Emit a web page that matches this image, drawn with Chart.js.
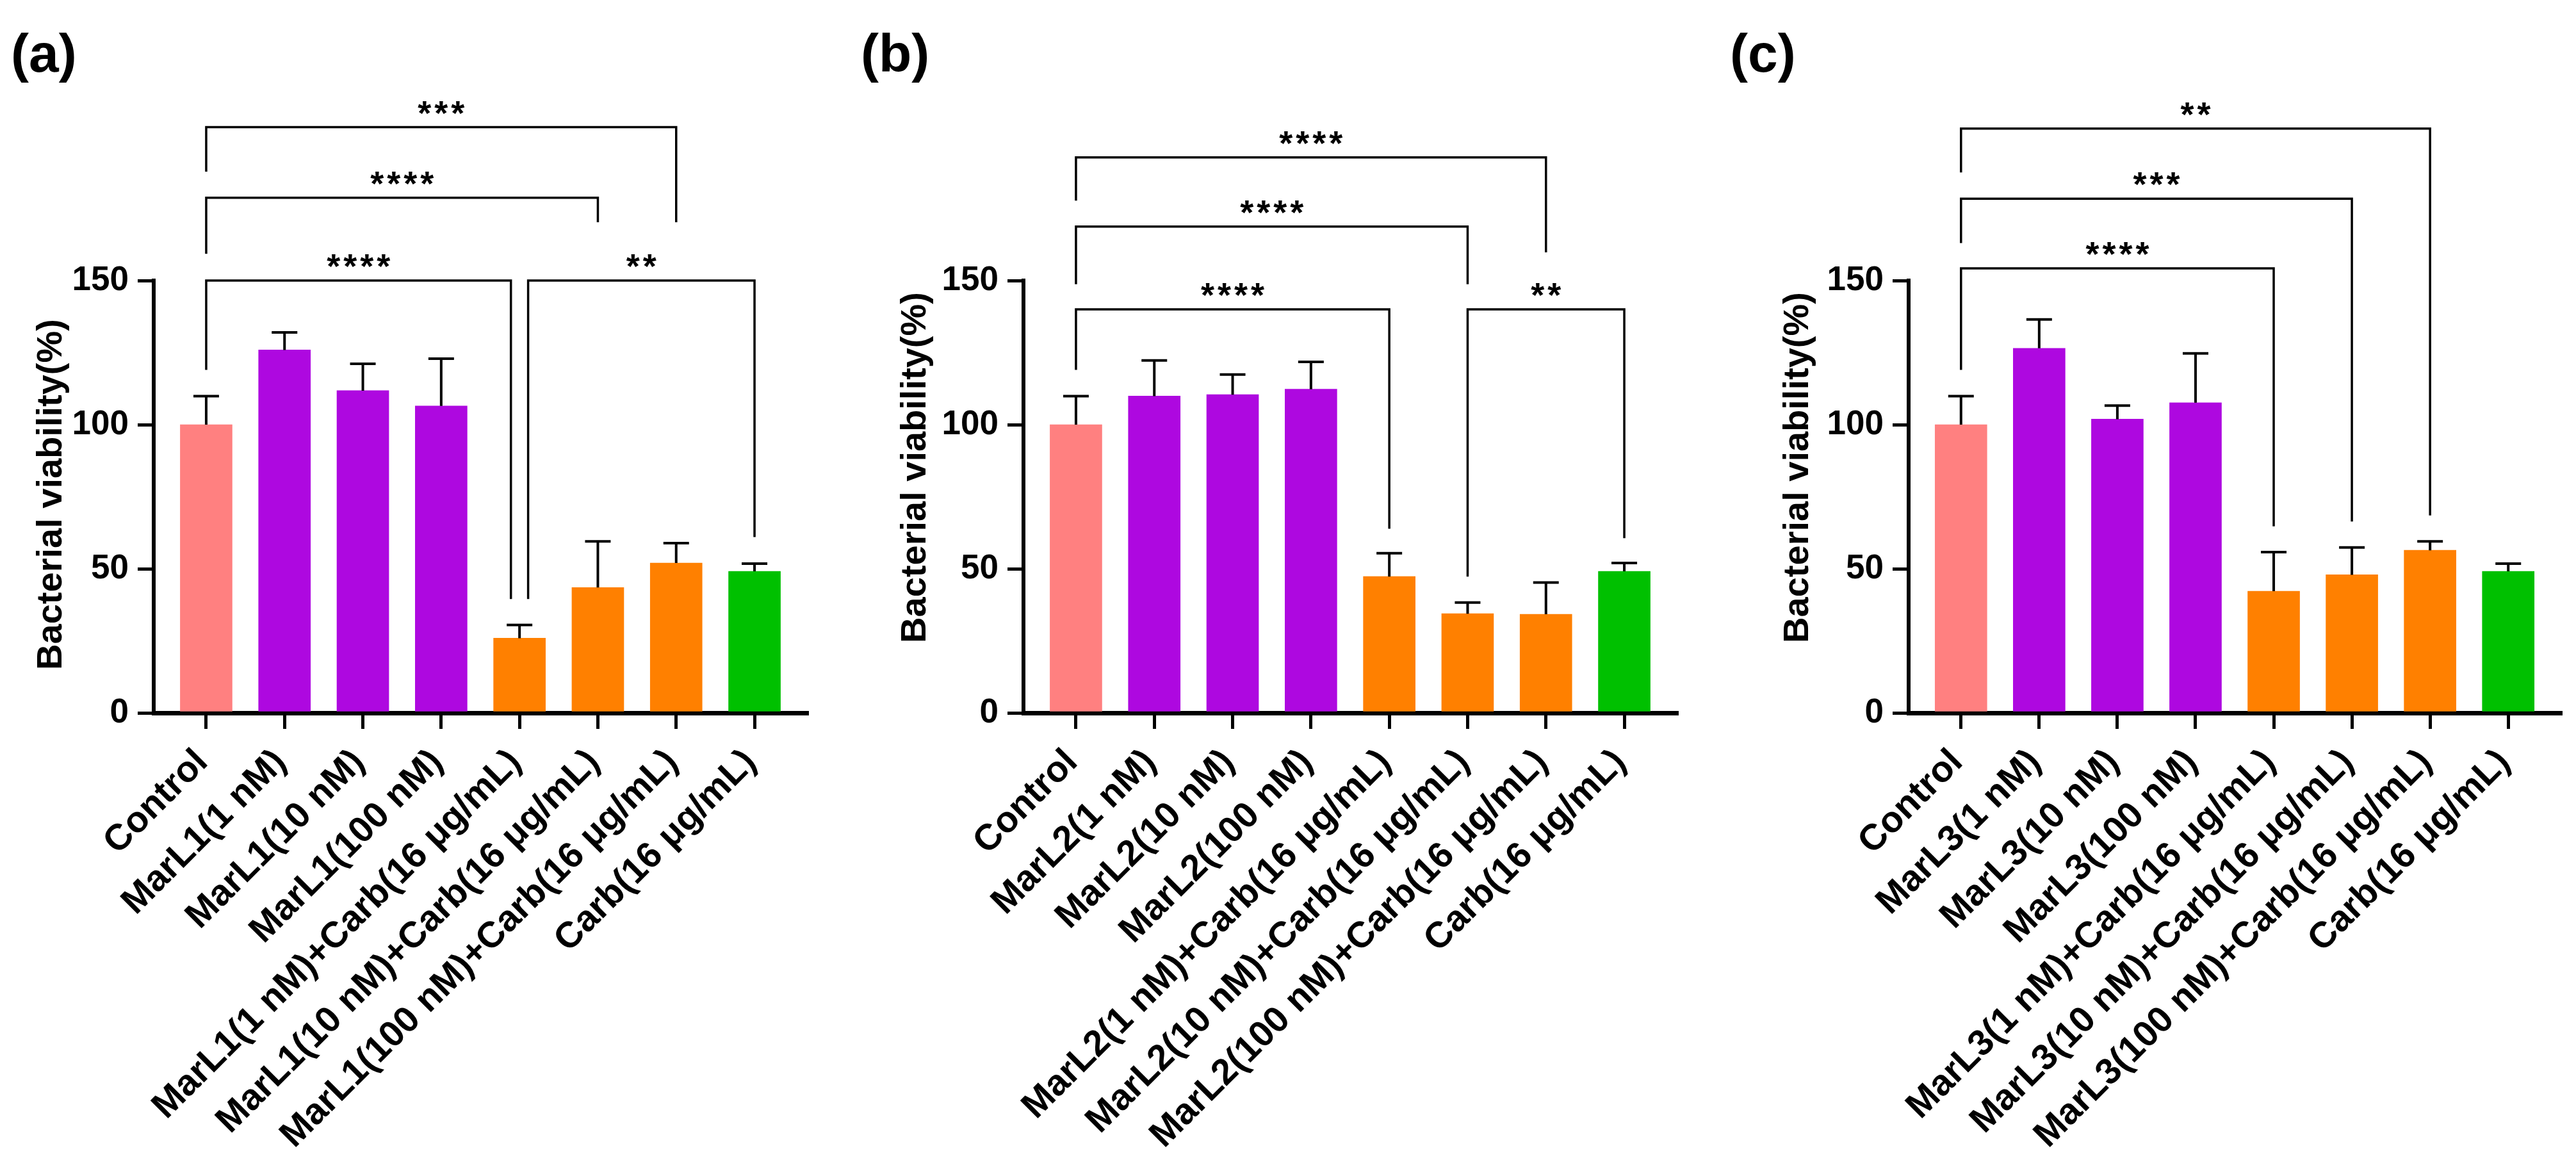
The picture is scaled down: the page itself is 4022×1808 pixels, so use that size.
<!DOCTYPE html>
<html>
<head>
<meta charset="utf-8">
<script src="https://cdn.jsdelivr.net/npm/chart.js@4.4.1/dist/chart.umd.min.js"></script>
<style>
  html, body { margin: 0; padding: 0; background: #ffffff; }
  body { width: 4022px; height: 1808px; position: relative; overflow: hidden; }
  .panel { position: absolute; top: 0; height: 1808px; }
</style>
</head>
<body>
<div class="panel" style="left:0px;width:1340px"><canvas id="chartA" width="1340" height="1808"></canvas></div>
<div class="panel" style="left:1340px;width:1340px"><canvas id="chartB" width="1340" height="1808"></canvas></div>
<div class="panel" style="left:2680px;width:1342px"><canvas id="chartC" width="1342" height="1808"></canvas></div>
<script>
// ---------- data ----------
const categoriesA = ["Control", "MarL1(1 nM)", "MarL1(10 nM)", "MarL1(100 nM)",
  "MarL1(1 nM)+Carb(16 μg/mL)", "MarL1(10 nM)+Carb(16 μg/mL)", "MarL1(100 nM)+Carb(16 μg/mL)", "Carb(16 μg/mL)"];
const categoriesB = ["Control", "MarL2(1 nM)", "MarL2(10 nM)", "MarL2(100 nM)",
  "MarL2(1 nM)+Carb(16 μg/mL)", "MarL2(10 nM)+Carb(16 μg/mL)", "MarL2(100 nM)+Carb(16 μg/mL)", "Carb(16 μg/mL)"];
const categoriesC = ["Control", "MarL3(1 nM)", "MarL3(10 nM)", "MarL3(100 nM)",
  "MarL3(1 nM)+Carb(16 μg/mL)", "MarL3(10 nM)+Carb(16 μg/mL)", "MarL3(100 nM)+Carb(16 μg/mL)", "Carb(16 μg/mL)"];

// mean bacterial viability (%) and SD (drawn as mean + SD error bars)
const meanA = [100, 125.9, 111.8, 106.5, 25.9, 43.5, 52.0, 49.1];
const sdA   = [9.9, 6.1, 9.3, 16.4, 4.6, 16.0, 6.9, 2.7];
const meanB = [100, 109.9, 110.4, 112.3, 47.3, 34.4, 34.2, 49.1];
const sdB   = [9.9, 12.4, 7.0, 9.5, 8.1, 3.9, 11.0, 2.9];
const meanC = [100, 126.5, 101.9, 107.6, 42.2, 47.9, 56.4, 49.1];
const sdC   = [9.9, 10.0, 4.7, 17.1, 13.6, 9.5, 3.1, 2.7];

const yTicks = [0, 50, 100, 150];
const panelLetters = ["(a)", "(b)", "(c)"];
const yTitle = "Bacterial viability(%)";

// significance brackets:
// [fromIndex, toIndex, lineValue, leftLegEndValue, rightLegEndValue, stars, fromShift, toShift]
const bracketsA = [
  [0, 6, 203.2, 187.8, 170.2, "***", 0, 0],
  [0, 5, 178.7, 159.3, 170.2, "****", 0, 0],
  [0, 4, 150.0, 119.0, 39.5, "****", 0, -0.11],
  [4, 7, 150.0, 39.5, 61.0, "**", 0.11, 0]
];
const bracketsB = [
  [0, 6, 192.7, 177.7, 159.8, "****", 0, 0],
  [0, 5, 168.7, 148.7, 148.7, "****", 0, 0],
  [0, 4, 140.0, 119.0, 63.9, "****", 0, 0],
  [5, 7, 140.0, 47.3, 60.6, "**", 0, 0]
];
const bracketsC = [
  [0, 6, 202.7, 187.5, 68.5, "**", 0, 0],
  [0, 5, 178.4, 163.0, 66.4, "***", 0, 0],
  [0, 4, 154.2, 119.0, 64.7, "****", 0, 0]
];

const colorControl = "#FF8080";
const colorMarL = "#AE08E0";
const colorCombo = "#FF8000";
const colorCarb = "#00C000";
const barColors = [colorControl, colorMarL, colorMarL, colorMarL, colorCombo, colorCombo, colorCombo, colorCarb];

// ---------- drawing ----------
const FONT = "'Liberation Sans', Arial, Helvetica, sans-serif";
Chart.defaults.font.family = FONT;
Chart.defaults.color = "#000";
const STAR_FS = 54;

function decoPlugin(cfg) {
  return {
    id: 'deco',
    afterDatasetsDraw(chart) {
      const ctx = chart.ctx, xs = chart.scales.x, ys = chart.scales.y;
      ctx.save();
      ctx.strokeStyle = "#000";
      // error bars (mean + SD)
      ctx.lineWidth = 4;
      cfg.mean.forEach((m, i) => {
        const x = xs.getPixelForValue(i);
        const y0 = ys.getPixelForValue(m), y1 = ys.getPixelForValue(m + cfg.sd[i]);
        ctx.beginPath();
        ctx.moveTo(x, y0); ctx.lineTo(x, y1);
        ctx.moveTo(x - 20, y1); ctx.lineTo(x + 20, y1);
        ctx.stroke();
      });
      // significance brackets with stars
      ctx.lineWidth = 3.5;
      ctx.fillStyle = "#000";
      ctx.font = "bold " + STAR_FS + "px " + FONT;
      ctx.textAlign = "center";
      ctx.textBaseline = "alphabetic";
      cfg.brackets.forEach(b => {
        const xL = xs.getPixelForValue(b[0] + b[6]), xR = xs.getPixelForValue(b[1] + b[7]);
        const yLine = ys.getPixelForValue(b[2]), yL = ys.getPixelForValue(b[3]), yR = ys.getPixelForValue(b[4]);
        ctx.beginPath();
        ctx.moveTo(xL, yL); ctx.lineTo(xL, yLine); ctx.lineTo(xR, yLine); ctx.lineTo(xR, yR);
        ctx.stroke();
        const stars = b[5], pitch = 26, cx = (xL + xR) / 2;
        for (let k = 0; k < stars.length; k++) {
          ctx.fillText("*", cx + (k - (stars.length - 1) / 2) * pitch, yLine - 4);
        }
      });
      ctx.restore();
    },
    afterDraw(chart) {
      const ctx = chart.ctx;
      ctx.save();
      ctx.fillStyle = "#000";
      ctx.font = "bold 84px " + FONT;
      ctx.textAlign = "left";
      ctx.textBaseline = "alphabetic";
      ctx.fillText(cfg.letter, cfg.letterX, 112);
      ctx.translate(cfg.titleX, cfg.titleY);
      ctx.rotate(-Math.PI / 2);
      ctx.font = "bold 56px " + FONT;
      ctx.textAlign = "center";
      ctx.textBaseline = "middle";
      ctx.fillText(yTitle, 0, 0);
      ctx.restore();
    }
  };
}

function makeChart(canvasId, cfg) {
  const data = cfg.mean.map((v, i) => ({ x: i, y: v }));
  return new Chart(document.getElementById(canvasId), {
    type: 'bar',
    data: {
      datasets: [{ data: data, backgroundColor: barColors, borderWidth: 0, barThickness: 81 }]
    },
    options: {
      responsive: false,
      animation: false,
      devicePixelRatio: 1,
      layout: { padding: { left: 0, right: cfg.padRight, top: 438, bottom: 0 } },
      plugins: { legend: { display: false }, tooltip: { enabled: false } },
      scales: {
        x: {
          type: 'linear', min: -0.67, max: 7.67, bounds: 'data', offset: false,
          afterBuildTicks(scale) { scale.ticks = cfg.categories.map((c, i) => ({ value: i })); },
          afterFit(scale) { scale.height = 695; },
          ticks: {
            autoSkip: false, minRotation: 45, maxRotation: 45, padding: 19, labelOffset: -6,
            font: { size: 57, weight: 'bold' }, color: '#000',
            callback: (v) => cfg.categories[Math.round(v)]
          },
          grid: { offset: false, drawOnChartArea: false, drawTicks: true, tickLength: 25, lineWidth: 5, color: '#000' },
          border: { display: true, width: 7, color: '#000' }
        },
        y: {
          min: 0, max: 150,
          afterBuildTicks(scale) { scale.ticks = yTicks.map(v => ({ value: v })); },
          afterFit(scale) { scale.width = cfg.yWidth; },
          ticks: { padding: 14, font: { size: 53, weight: 'bold' }, color: '#000' },
          grid: { drawOnChartArea: false, drawTicks: true, tickLength: 25, lineWidth: 5, color: '#000' },
          border: { display: true, width: 6, color: '#000' }
        }
      }
    },
    plugins: [decoPlugin(cfg)]
  });
}

makeChart('chartA', { categories: categoriesA, mean: meanA, sd: sdA, brackets: bracketsA,
  yWidth: 240, padRight: 80, letter: panelLetters[0], letterX: 17, titleX: 81, titleY: 772 });
makeChart('chartB', { categories: categoriesB, mean: meanB, sd: sdB, brackets: bracketsB,
  yWidth: 258, padRight: 62, letter: panelLetters[1], letterX: 4, titleX: 90, titleY: 730 });
makeChart('chartC', { categories: categoriesC, mean: meanC, sd: sdC, brackets: bracketsC,
  yWidth: 300, padRight: 24, letter: panelLetters[2], letterX: 21, titleX: 128, titleY: 730 });
</script>
</body>
</html>
